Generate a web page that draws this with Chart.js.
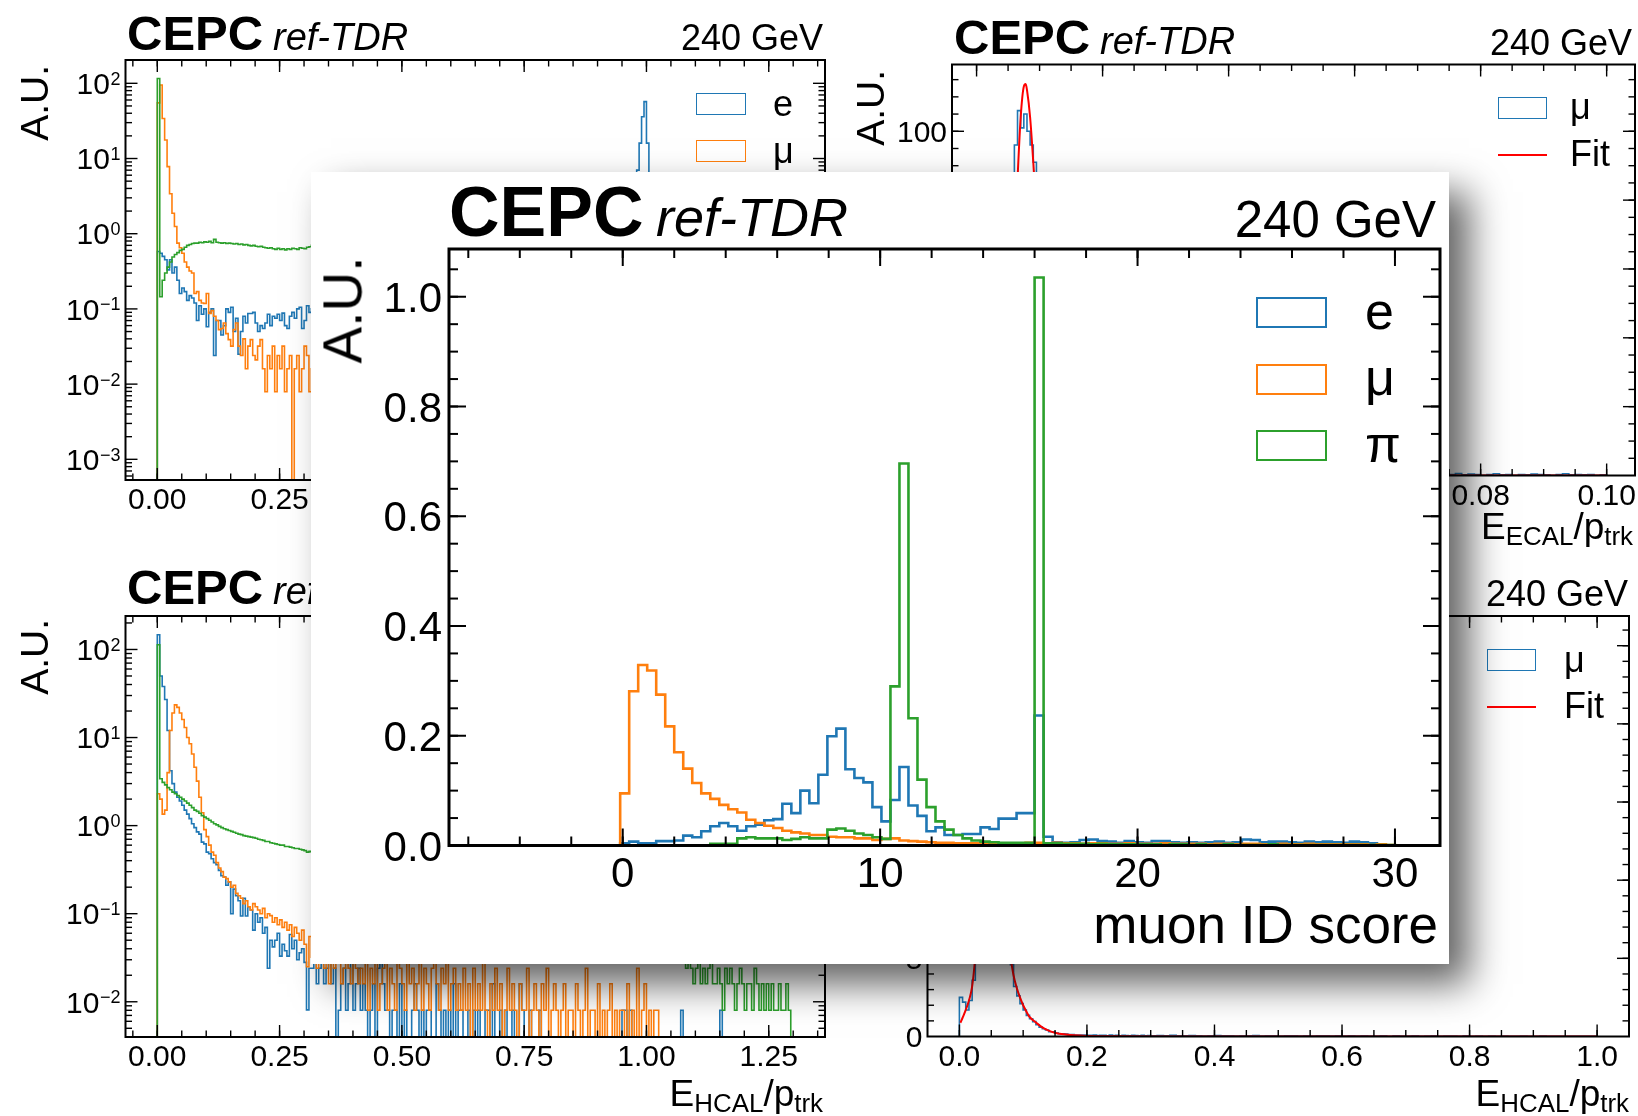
<!DOCTYPE html>
<html>
<head>
<meta charset="utf-8">
<title>muon ID score</title>
<script src="https://cdn.jsdelivr.net/npm/chart.js@4.4.1/dist/chart.umd.min.js"></script>
<style>
  html, body { margin: 0; padding: 0; }
  body { width: 1638px; height: 1116px; position: relative; overflow: hidden; background: #fff;
         font-family: "Liberation Sans", Arial, Helvetica, sans-serif; color: #000; }
  canvas { position: absolute; left: 0; top: 0; }
  .layer { position: absolute; left: 0; top: 0; width: 1638px; height: 1116px; }
  .t { position: absolute; white-space: nowrap; line-height: 1; }
  .sub { font-size: 0.7em; vertical-align: -0.22em; }
  #panel { position: absolute; left: 311px; top: 172px; width: 1138px; height: 792px; background: #fff;
           box-shadow: 20px 20px 36px rgba(0,0,0,0.62); }
</style>
</head>
<body>
<canvas id="tl" width="1638" height="1116"></canvas>
<canvas id="tr" width="1638" height="1116"></canvas>
<canvas id="bl" width="1638" height="1116"></canvas>
<canvas id="br" width="1638" height="1116"></canvas>
<div id="bgText" class="layer"></div>
<div id="panel"><canvas id="main" width="1138" height="792"></canvas></div>
<script>
// ---------- main plot: muon ID score, 100 bins from -5 to 30 ----------
const scoreBins = [[-5, 0.35, 100]];
const scoreE = [0,0,0,0,0,0,0,0,0,0,0,0,0,0,
  .004,.007,.004,.004,.008,.008,.009,.018,.015,.026,
  .035,.041,.035,.027,.035,.038,.046,.048,.076,.059,
  .100,.077,.129,.199,.213,.139,.123,.115,.070,.044,
  .083,.143,.073,.054,.026,.033,.019,.019,.021,.021,
  .033,.030,.049,.049,.059,.059,.237,.016,
  .006,.005,.006,.010,.011,.008,.007,.005,.008,.006,
  .005,.008,.008,.006,.005,.006,.005,.006,.007,.005,
  .006,.011,.010,.006,.007,.007,.006,.005,.007,.006,
  .007,.006,.005,.007,.006,.004,0,0];
const scoreMu = [0,0,0,0,0,0,0,0,0,0,0,0,0,0,
  .095,.281,.329,.319,.275,.217,.170,.140,.114,.095,
  .085,.074,.066,.060,.047,.041,.036,.032,.027,.024,
  .022,.019,.019,.016,.015,.015,.013,.013,.010,.012,
  .013,.009,.008,.007,.006,.005,.005,.004,.004,.004,
  .004,.003,.004,.004,.004,.005,.005,
  .004,.005,.004,.004,.003,.004,.004,.003,.003,.004,
  .003,.003,.003,.004,.003,.003,.003,.003,.002,.003,
  .003,.002,.003,.003,.002,.002,.003,.002,.002,.003,
  .002,.002,.002,.002,.002,.002,.001,.002,.001];
const scorePi = [0,0,0,0,0,0,0,0,0,0,0,0,0,0,0,0,0,0,0,0,0,0,0,0,
  .003,.003,.003,.013,.015,.013,.013,.013,.010,.012,
  .015,.013,.013,.029,.031,.027,.022,.019,.015,.012,
  .290,.696,.232,.120,.070,.044,.029,.019,.013,.009,
  .007,.006,.005,.005,.005,.005,1.035,
  .004,.004,.003,.003,.003,.002,.003,.002,.002,.002,
  .002,.002,.002,.001,.002,.002,.001,.002,.001,.001,
  .002,.001,.001,.001,.001,.002,.001,.001,.001,.001,
  .001,.001,.001,.001,.001,.001,.001,.001,.001];
const scoreXTicks = [0, 10, 20, 30];
const scoreYTicks = [0, 0.2, 0.4, 0.6, 0.8, 1.0];

// ---------- E_ECAL/p_trk (log) ----------
const ecalBins = [[0, 0.005, 64], [0.32, 0.04, 16], [0.96, 0.005, 16], [1.04, 0.02, 13]];
const ecalE = [.58,.55,.5,.45,.33,.45,.3,.36,.24,.16,
  .19,.17,.13,.15,.14,.12,.07,.11,.085,.1,
  .058,.09,.1,.024,.07,.07,.045,.06,.1,.09,
  .105,.05,.075,.025,.05,.08,.065,.087,.087,.09,
  .065,.05,.06,.055,.065,.085,.06,.08,.075,.085,
  .07,.088,.06,.055,.08,.09,.075,.1,.105,.055,
  .07,.11,.09,.1,
  .09,.1,.11,.12,.13,.15,.17,.2,.23,.28,.35,.45,.6,.8,1.1,2.0,
  2.6,3.4,4.2,5.2,7,16,36,57,16,5,1.5,.5,.2,.1,.06,.05,
  .04,.03,.02,.015,.012,.01,.008,.008,.006,.005,.004,.003,.002];
const ecalMu = [55,95,34,17.6,7.8,3.4,1.87,1.25,.75,.65,
  .55,.42,.36,.32,.3,.16,.17,.13,.12,.118,
  .16,.087,.095,.08,.07,.053,.055,.065,.047,.039,
  .032,.053,.065,.032,.024,.04,.016,.032,.039,.024,
  .021,.032,.039,.016,.0079,.024,.016,.032,.0079,.024,
  .016,.032,.0079,.016,.024,0,.016,.024,.0079,.016,
  .032,.024,.0079,.016,
  .016,.012,.01,.008,.008,.006,.005,.005,.004,.004,.003,.003,.002,.002,.002,.002,
  .002,0,.002,0,0,.002,0,0,.002,0,0,0,0,0,0,0,
  0,0,0,0,0,0,0,0,0,0,0,0,0];
const ecalPi = [116,.145,.24,.3,.36,.42,.49,.53,.56,.6,
  .62,.66,.7,.72,.74,.75,.75,.77,.76,.78,
  .77,.79,.76,.84,.77,.76,.75,.76,.74,.75,
  .74,.73,.74,.72,.73,.71,.72,.7,.69,.7,
  .68,.67,.68,.66,.65,.64,.65,.63,.62,.64,
  .62,.63,.61,.63,.62,.64,.63,.62,.65,.64,
  .63,.66,.67,.7,
  .72,.75,.78,.8,.82,.83,.82,.8,.78,.75,.7,.66,.6,.55,.5,.45,
  .42,.41,.4,.4,.39,.38,.38,.37,.36,.36,.35,.34,.34,.33,.32,.31,
  .28,.24,.2,.17,.14,.11,.09,.07,.05,.04,.03,.02,.01];
const ratioXTicks = [0, 0.25, 0.5, 0.75, 1.0, 1.25];
const ecalYDecades = [-3, -2, -1, 0, 1, 2];

// ---------- E_HCAL/p_trk (log) ----------
const hcalBins = [[0, 0.005, 260]];
const hcalE = [147,50,38,27,12,4.2,3,2.4,2.1,1.9,
  1.7,1.5,1.35,1.2,1.05,.95,.85,.8,.65,.62,
  .5,.48,.42,.38,.36,.31,.27,.26,.21,.23,
  .1,.19,.16,.14,.094,.15,.094,.12,.11,.065,
  .1,.08,.09,.06,.07,.024,.05,.042,.05,.06,
  .033,.045,.038,.033,.058,.04,.05,.03,.036,.04,
  .028,.0081,.024,
  .024,.032,.016,.024,.041,.016,.024,.032,.016,.024,
  0,.008,.016,.024,.008,.016,.032,.008,.016,.024,
  .008,.016,.008,0,.008,.016,0,.024,.041,.016,
  .008,.008,0,.008,.008,0,.016,0,.008,0,
  0,.008,.016,.008,0,.008,0,.008,.008,0,
  0,.016,.008,0,.008,0,.008,0,.016,0,
  .008,.008,0,0,.008,0,.008,0,.008,0,
  0,.008,.008,0,.016,0,0,.008,0,.008,
  0,0,.008,0,0,.016,.008,0,0,.008,
  0,0,0,.008,0,0,0,0,0,0,
  0,0,0,0,0,0,0,0,0,0,
  0,0,0,0,0,0,0,0,0,0,
  0,0,0,0,0,0,0,.008,.008,0,
  .008,0,0,0,0,0,0,0,0,0,
  0,0,0,0,0,0,0,0,0,0,
  0,.008,0,0,0,0,0,0,0,0,
  0,0,0,0,0,0,0,.008,0,0,
  0,0,0,0,0,0,0,0,0,0,
  0,0,0,0,0,0,0,0,0,0,
  0,0,0,0,0,0,0];
const hcalMu = [2.3,2.0,1.35,1.5,4,12,19,23.5,22,19,
  16,13,10,8.5,6.5,4.6,3.2,2.1,1.4,.9,
  .75,.6,.5,.46,.38,.33,.3,.26,.25,.23,
  .2,.21,.17,.16,.15,.13,.14,.12,.11,.13,
  .12,.11,.1,.115,.09,.1,.095,.08,.09,.075,
  .085,.07,.08,.065,.075,.055,.07,.06,.05,.065,
  .045,.025,.055,
  .032,.041,.024,.049,.032,.024,.041,.016,.032,.024,
  .049,.032,.016,.024,.041,.024,.016,.032,.024,.016,
  .024,.016,.032,.008,.024,.016,.041,.008,.016,.024,
  .032,.008,.024,.016,.008,.032,.024,.016,.008,.041,
  .016,.024,.008,.016,.032,.008,.024,.016,.008,.024,
  .032,.016,.008,.024,.016,.041,.008,.016,.024,.008,
  .016,.008,.024,.008,.016,0,.024,.008,.016,.008,
  .032,.008,0,.016,.008,.024,.008,.016,0,.008,
  .024,.008,.016,.008,0,.016,.008,.008,.024,0,
  .008,.016,.008,0,.016,.008,.024,0,.008,.016,
  .008,0,.008,.016,0,.008,.008,0,.016,.008,
  0,.008,.024,0,.008,.008,0,.016,0,.008,
  0,.008,.016,0,.008,0,.008,.008,0,.016,
  0,.008,0,.024,0,.008,.016,0,.008,0,
  .008,.008,0,0,0,0,0,0,0,0,
  0,0,0,0,0,0,0,0,0,0,
  0,0,0,0,0,0,0,0,0,0,
  0,0,0,0,0,0,0,0,0,0,
  0,0,0,0,0,0,0,0,0,0,
  0,0,0,0,0,0,0];
const hcalPi = [113,3.4,3.1,2.9,2.7,2.55,2.4,2.3,2.2,2.1,
  2,1.9,1.8,1.7,1.6,1.5,1.45,1.38,1.3,1.25,
  1.2,1.15,1.1,1.05,1.02,.98,.95,.92,.9,.88,
  .86,.84,.82,.8,.79,.77,.76,.75,.74,.73,
  .72,.7,.69,.68,.66,.66,.64,.63,.62,.61,
  .6,.6,.58,.58,.57,.56,.55,.55,.54,.53,
  .52,.5,.51,
  .5,.49,.48,.48,.47,.46,.46,.45,.44,.44,.43,.42,.42,.41,.4,.4,.39,.38,.38,.37,
  .36,.36,.35,.34,.34,.33,.32,.32,.31,.3,.3,.29,.28,.28,.27,.27,.26,.25,.25,.24,
  .24,.23,.22,.22,.21,.21,.2,.2,.19,.19,.18,.18,.17,.17,.16,.16,.15,.15,.15,.14,
  .14,.13,.13,.13,.12,.12,.12,.11,.11,.11,.1,.1,.1,.095,.095,.09,.09,.088,.085,.082,
  .08,.078,.076,.074,.072,.07,.068,.066,.064,.062,.06,.058,.057,.055,.054,.052,.05,.049,.048,.047,
  .046,.045,.044,.043,.042,.041,.04,.039,.039,.038,.037,.037,.036,.036,.035,.035,.034,.034,.034,.034,
  .034,.033,.033,.033,.032,.032,.032,.032,.031,.031,.031,.031,.031,.031,.031,.031,.031,.031,.031,.031,
  .031,.032,.031,.033,.031,.032,.035,.031,.032,.033,.031,.034,.031,
  .024,.032,.024,.016,.024,.032,.016,.024,.016,.024,
  .032,.016,.016,.024,.016,.008,.024,.016,.024,.016,
  .008,.016,.024,.016,.008,.016,.016,.008,.024,.016,
  .008,.016,.008,.016,.008,.016,.008,.008,.016,.008,
  .008,.016,.008,0];
const hcalYDecades = [-2, -1, 0, 1, 2];

// ---------- muon E_ECAL/p_trk with fit ----------
const muEcalBins = [[0, 0.0005, 40], [0.02, 0.005, 11], [0.075, 0.001, 25]];
const muEcal = [0,0,.2,.5,1,2,4,8,16,30,
  50,70,96,106,101,105,100,96,91,84,
  72,60,48,38,30,24,19,15,12,10,
  8,6.5,5.5,4.5,4,3.5,3,2.6,2.3,2,
  1.6,1.2,.9,.8,.7,.6,.5,.5,.45,.4,.4,
  .3,.6,.2,.4,.3,0,.3,.5,.2,.3,
  0,.3,.2,.4,.3,.2,0,.3,.5,.2,
  .3,.2,.3,0,.2];
const muEcalFitX = [0.002,0.003,0.004,0.0045,0.005,0.0055,0.006,0.0065,0.007,0.0075,0.0078,0.008,
  0.0085,0.009,0.0095,0.01,0.0105,0.011,0.012,0.013,0.014,0.016,0.02,0.03,0.1];
const muEcalFitY = [0,0.5,4,10,22,40,63,86,104,113,113.7,112,104,91,76,61,47,35,18,8.5,4,1,0.2,0,0];
const muEcalXTicks = [0, 0.02, 0.04, 0.06, 0.08, 0.10];
const muEcalYTicks = [0, 20, 40, 60, 80, 100];

// ---------- muon E_HCAL/p_trk with fit ----------
const muHcalBins = [[0, 0.005, 60], [0.3, 0.01, 70]];
const muHcal = [2.5,2.2,1.7,2.3,3.6,6,10,15,20,24,
  25.5,24,21,16,11,7.5,4.6,3.2,2.6,2.1,
  1.7,1.35,1.14,.95,.75,.6,.5,.42,.3,.3,
  .22,.18,.17,.15,.12,.12,.1,.1,.09,.09,
  .08,.07,.09,.06,.08,.07,.05,.09,.06,.07,
  .05,.08,.06,.05,.07,.06,.04,.07,.05,.06,
  .05,.06,.04,.07,.05,.04,.06,.05,.03,.05,
  .06,.04,.05,.03,.05,.04,.06,.03,.04,.05,
  .03,.04,.05,.03,.04,.03,.05,.04,.03,.04,
  .03,.05,.03,.04,.03,.03,.04,.02,.04,.03,
  .03,.04,.02,.03,.04,.02,.03,.03,.02,.04,
  .02,.03,.02,.03,.02,.03,.02,.02,.03,.02,
  .02,.03,.02,.02,.01,.02,.02,.01,.02,.01];
const muHcalFitX = [0.0016,0.005,0.01,0.015,0.02,0.025,0.03,0.035,0.04,0.045,0.05,0.055,0.06,0.065,
  0.07,0.075,0.08,0.085,0.09,0.095,0.1,0.105,0.11,0.12,0.13,0.14,0.15,0.16,0.18,0.2,0.25,0.3,0.5,1.0];
const muHcalFitY = [0.88,1.2,1.7,2.3,3.2,5.2,8.5,13,18.5,23,25.6,25,21.5,16.5,
  11.5,7.8,5.2,3.9,3.1,2.5,2.0,1.6,1.25,0.9,0.58,0.38,0.24,0.16,0.08,0.04,0.012,0.004,0,0];
const muHcalXTicks = [0, 0.2, 0.4, 0.6, 0.8, 1.0];
const muHcalYTicks = [0, 5, 10, 15, 20, 25];

const C_E = '#1f77b4', C_MU = '#ff7f0e', C_PI = '#2ca02c', C_FIT = '#ff0000';
const FONT = '"Liberation Sans", Arial, Helvetica, sans-serif';

// step outline of a histogram, bins given as [start, width, count] segments
function histPoints(spec, values) {
  const edges = [];
  spec.forEach(([start, width, n]) => { for (let i = 0; i < n; i++) edges.push(start + i * width); });
  const last = spec[spec.length - 1];
  edges.push(last[0] + last[1] * last[2]);
  if (values.length !== edges.length - 1) console.warn('bin count mismatch', values.length, edges.length - 1);
  const n = Math.min(values.length, edges.length - 1);
  const pts = [{ x: edges[0], y: 0 }];
  for (let i = 0; i < n; i++) pts.push({ x: edges[i], y: values[i] });
  pts.push({ x: edges[n], y: 0 });
  return pts;
}

function histSet(spec, values, color, lw, order) {
  return { data: histPoints(spec, values), borderColor: color, borderWidth: lw, stepped: true,
           fill: false, pointRadius: 0, order: order, borderJoinStyle: 'miter' };
}

function curveSet(xs, ys, color, lw, order) {
  return { data: xs.map((x, i) => ({ x: x, y: ys[i] })), borderColor: color, borderWidth: lw,
           cubicInterpolationMode: 'monotone', fill: false, pointRadius: 0, order: order };
}

function multiples(min, max, step) {
  const out = [];
  for (let k = Math.ceil(min / step - 1e-9); k <= Math.floor(max / step + 1e-9); k++) out.push(k * step);
  return out;
}

function logMinors(min, max) {
  const out = [];
  for (let k = Math.floor(Math.log10(min)); k <= Math.ceil(Math.log10(max)); k++) {
    for (let m = 2; m <= 9; m++) { const v = m * Math.pow(10, k); if (v > min && v < max) out.push(v); }
  }
  return out;
}

// inward ticks on all four sides, frame and tick labels (mplhep look)
function hepAxes(o) {
  return {
    id: 'hepAxes',
    afterDatasetsDraw(chart) {
      const ctx = chart.ctx, a = chart.chartArea;
      const sx = chart.scales.x, sy = chart.scales.y;
      const font = (s) => s + 'px ' + FONT;
      const seg = (x1, y1, x2, y2) => { ctx.beginPath(); ctx.moveTo(x1, y1); ctx.lineTo(x2, y2); ctx.stroke(); };
      ctx.save();
      ctx.strokeStyle = '#000';
      ctx.fillStyle = '#000';
      ctx.lineWidth = o.tickWidth;
      const xTick = (v, len) => {
        const p = sx.getPixelForValue(v);
        if (p < a.left + 1 || p > a.right - 1) return;
        seg(p, a.bottom, p, a.bottom - len); seg(p, a.top, p, a.top + len);
      };
      const yTick = (v, len) => {
        const p = sy.getPixelForValue(v);
        if (p < a.top + 1 || p > a.bottom - 1) return;
        seg(a.left, p, a.left + len, p); seg(a.right, p, a.right - len, p);
      };
      multiples(sx.min, sx.max, o.xMinor).forEach(v => xTick(v, o.minorLen));
      o.xMajor.forEach(v => xTick(v, o.majorLen));
      if (o.logY) logMinors(sy.min, sy.max).forEach(v => yTick(v, o.minorLen));
      else multiples(sy.min, sy.max, o.yMinor).forEach(v => yTick(v, o.minorLen));
      o.yMajor.forEach(v => yTick(v, o.majorLen));
      ctx.lineWidth = o.frameWidth;
      ctx.strokeRect(a.left, a.top, a.right - a.left, a.bottom - a.top);

      const s = o.fontSize;
      ctx.font = font(s);
      ctx.textBaseline = 'alphabetic';
      ctx.textAlign = 'center';
      o.xMajor.forEach(v => ctx.fillText(v.toFixed(o.xDec), sx.getPixelForValue(v), a.bottom + o.xLabelDy));
      ctx.textAlign = 'right';
      const xr = a.left - o.yLabelDx;
      o.yMajor.forEach(v => {
        const base = sy.getPixelForValue(v) + 0.358 * s;
        if (o.logY) {
          const k = Math.round(Math.log10(v));
          const ex = (k < 0 ? '\u2212' : '') + Math.abs(k);
          ctx.font = font(0.6 * s);
          const ew = ctx.measureText(ex).width;
          ctx.fillText(ex, xr, base - 0.31 * s);
          ctx.font = font(s);
          ctx.fillText('10', xr - ew - 0.5, base);
        } else {
          ctx.fillText(v.toFixed(o.yDec), xr, base);
        }
      });
      ctx.restore();
    }
  };
}

function makeChart(id, c) {
  return new Chart(document.getElementById(id), {
    type: 'line',
    data: { datasets: c.datasets },
    options: {
      responsive: false, animation: false, events: [], parsing: false,
      layout: { padding: c.padding },
      plugins: { legend: { display: false }, tooltip: { enabled: false }, title: { display: false } },
      elements: { point: { radius: 0 } },
      scales: {
        x: { type: 'linear', display: false, bounds: 'data', min: c.xMin, max: c.xMax },
        y: { type: c.logY ? 'logarithmic' : 'linear', display: false, bounds: 'data', min: c.yMin, max: c.yMax }
      }
    },
    plugins: [hepAxes(c.axes)]
  });
}

const W = 1638, H = 1116;
const bgAxes = { fontSize: 30, xLabelDy: 29, yLabelDx: 5, majorLen: 12, minorLen: 6.5, tickWidth: 1.4, frameWidth: 2 };
const decades = (ks) => ks.map(k => Math.pow(10, k));

// top left: E_ECAL/p_trk
makeChart('tl', {
  padding: { left: 125.5, top: 60, right: W - 825, bottom: H - 480 },
  xMin: -0.065, xMax: 1.365, logY: true, yMin: Math.pow(10, -3.275), yMax: Math.pow(10, 2.31),
  datasets: [histSet(ecalBins, ecalE, C_E, 1.6, 3), histSet(ecalBins, ecalMu, C_MU, 1.6, 2), histSet(ecalBins, ecalPi, C_PI, 1.6, 1)],
  axes: Object.assign({ xMajor: ratioXTicks, xMinor: 0.05, xDec: 2, logY: true, yMajor: decades(ecalYDecades) }, bgAxes)
});

// top right: muon E_ECAL/p_trk with fit
makeChart('tr', {
  padding: { left: 952, top: 64.5, right: W - 1635, bottom: H - 475.5 },
  xMin: -0.0039, xMax: 0.1045, yMin: 0, yMax: 119.4,
  datasets: [histSet(muEcalBins, muEcal, C_E, 1.6, 2), curveSet(muEcalFitX, muEcalFitY, C_FIT, 2, 1)],
  axes: Object.assign({ xMajor: muEcalXTicks, xMinor: 0.005, xDec: 2, yMajor: muEcalYTicks, yMinor: 5, yDec: 0 }, bgAxes)
});

// bottom left: E_HCAL/p_trk
makeChart('bl', {
  padding: { left: 125.5, top: 616, right: W - 825, bottom: H - 1037 },
  xMin: -0.065, xMax: 1.365, logY: true, yMin: Math.pow(10, -2.4), yMax: Math.pow(10, 2.38),
  datasets: [histSet(hcalBins, hcalE, C_E, 1.6, 3), histSet(hcalBins, hcalMu, C_MU, 1.6, 2), histSet(hcalBins, hcalPi, C_PI, 1.6, 1)],
  axes: Object.assign({ xMajor: ratioXTicks, xMinor: 0.05, xDec: 2, logY: true, yMajor: decades(hcalYDecades) }, bgAxes)
});

// bottom right: muon E_HCAL/p_trk with fit
makeChart('br', {
  padding: { left: 927.5, top: 616, right: W - 1629, bottom: H - 1036.5 },
  xMin: -0.05, xMax: 1.05, yMin: 0, yMax: 26.9,
  datasets: [histSet(muHcalBins, muHcal, C_E, 1.6, 2), curveSet(muHcalFitX, muHcalFitY, C_FIT, 2, 1)],
  axes: Object.assign({ xMajor: muHcalXTicks, xMinor: 0.05, xDec: 1, yMajor: muHcalYTicks, yMinor: 1, yDec: 0 }, bgAxes)
});

// overlay panel: muon ID score
makeChart('main', {
  padding: { left: 138, top: 77, right: 9, bottom: 118.5 },
  xMin: -6.75, xMax: 31.75, yMin: 0, yMax: 1.087,
  datasets: [histSet(scoreBins, scoreE, C_E, 2.6, 3), histSet(scoreBins, scoreMu, C_MU, 2.6, 2), histSet(scoreBins, scorePi, C_PI, 2.6, 1)],
  axes: { xMajor: scoreXTicks, xMinor: 2, xDec: 0, yMajor: scoreYTicks, yMinor: 0.05, yDec: 1,
          fontSize: 42, xLabelDy: 41, yLabelDx: 7, majorLen: 17, minorLen: 9, tickWidth: 2, frameWidth: 3 }
});

// ---------- texts and legends (html) ----------
function addText(parent, html, x, base, size, opt) {
  opt = opt || {};
  const el = document.createElement('div');
  el.className = 't';
  el.innerHTML = html;
  el.style.fontSize = size + 'px';
  el.style.left = x + 'px';
  el.style.top = (base - 0.8465 * size) + 'px';
  if (opt.bold) el.style.fontWeight = 'bold';
  if (opt.italic) el.style.fontStyle = 'italic';
  if (opt.right) el.style.transform = 'translateX(-100%)';
  if (opt.up) {
    el.style.transformOrigin = '0 ' + (0.8465 * size) + 'px';
    el.style.transform = 'rotate(-90deg) translateX(-100%)';
  }
  parent.appendChild(el);
}

function addBlock(parent, x, y, w, h, css) {
  const el = document.createElement('div');
  el.style.position = 'absolute';
  el.style.left = x + 'px'; el.style.top = y + 'px';
  el.style.width = w + 'px'; el.style.height = h + 'px';
  el.style.boxSizing = 'border-box';
  Object.assign(el.style, css);
  parent.appendChild(el);
}

const ECAL = 'E<span class="sub">ECAL</span>/p<span class="sub">trk</span>';
const HCAL = 'E<span class="sub">HCAL</span>/p<span class="sub">trk</span>';

function decorate(parent, ox, oy, f) {
  const T = (html, x, b, s, o) => addText(parent, html, x - ox, b - oy, s, o);
  T('CEPC', f.cepcX, f.titleBase, f.cepcSize, { bold: true });
  T('ref-TDR', f.refX, f.titleBase, f.refSize, { italic: true });
  T('240 GeV', f.energyR, f.energyBase, f.energySize, { right: true });
  T('A.U.', f.auX, f.auTop, f.auSize, { up: true });
  T(f.xLabel, f.xLabR, f.xLabBase, f.labSize, { right: true });
  const L = f.legend;
  L.items.forEach((it, i) => {
    const top = L.y0 + i * L.dy;
    if (it.line) {
      addBlock(parent, L.x - ox, top + L.h / 2 - L.lw / 2 - oy, L.w, L.lw, { background: it.color });
      T(it.label, L.labelX, top + L.h / 2 + 0.32 * L.size, L.size);
    } else {
      addBlock(parent, L.x - ox, top - oy, L.w, L.h, { border: L.bw + 'px solid ' + it.color });
      T(it.label, L.labelX, top + L.h + 1, L.size);
    }
  });
}

const bg = document.getElementById('bgText');
const threeItems = [{ label: 'e', color: C_E }, { label: '\u03bc', color: C_MU }, { label: '\u03c0', color: C_PI }];
const fitItems = [{ label: '\u03bc', color: C_E }, { label: 'Fit', color: C_FIT, line: true }];
const bgFont = { cepcSize: 49, refSize: 38, energySize: 36, auSize: 39, labSize: 37 };

decorate(bg, 0, 0, Object.assign({ cepcX: 127, refX: 273, titleBase: 50, energyR: 823, energyBase: 50,
  auX: 48, auTop: 65, xLabel: ECAL, xLabR: 823, xLabBase: 549,
  legend: { x: 696, y0: 93, dy: 47, w: 50, h: 22, bw: 1.8, lw: 2, labelX: 773, size: 36, items: threeItems } }, bgFont));

decorate(bg, 0, 0, Object.assign({ cepcX: 954, refX: 1100, titleBase: 54, energyR: 1632, energyBase: 55,
  auX: 884, auTop: 70, xLabel: ECAL, xLabR: 1633, xLabBase: 539,
  legend: { x: 1498, y0: 96.5, dy: 47, w: 49, h: 22, bw: 1.8, lw: 2, labelX: 1570, size: 36, items: fitItems } }, bgFont));

decorate(bg, 0, 0, Object.assign({ cepcX: 127, refX: 273, titleBase: 604, energyR: 823, energyBase: 604,
  auX: 48, auTop: 619, xLabel: HCAL, xLabR: 823, xLabBase: 1106,
  legend: { x: 696, y0: 650, dy: 47, w: 50, h: 22, bw: 1.8, lw: 2, labelX: 773, size: 36, items: threeItems } }, bgFont));

decorate(bg, 0, 0, Object.assign({ cepcX: 930, refX: 1076, titleBase: 604, energyR: 1628, energyBase: 606,
  auX: 860, auTop: 620, xLabel: HCAL, xLabR: 1629, xLabBase: 1106,
  legend: { x: 1487, y0: 649, dy: 47, w: 49, h: 22, bw: 1.8, lw: 2, labelX: 1564, size: 36, items: fitItems } }, bgFont));

decorate(document.getElementById('panel'), 311, 172, {
  cepcX: 449, refX: 656, titleBase: 236, cepcSize: 70, refSize: 54,
  energyR: 1436, energyBase: 237, energySize: 51,
  auX: 362, auTop: 257, auSize: 55,
  xLabel: 'muon ID score', xLabR: 1438, xLabBase: 943, labSize: 53,
  legend: { x: 1256, y0: 297, dy: 66.5, w: 71, h: 31, bw: 2.6, lw: 3, labelX: 1365, size: 52, items: threeItems }
});
</script>
</body>
</html>
